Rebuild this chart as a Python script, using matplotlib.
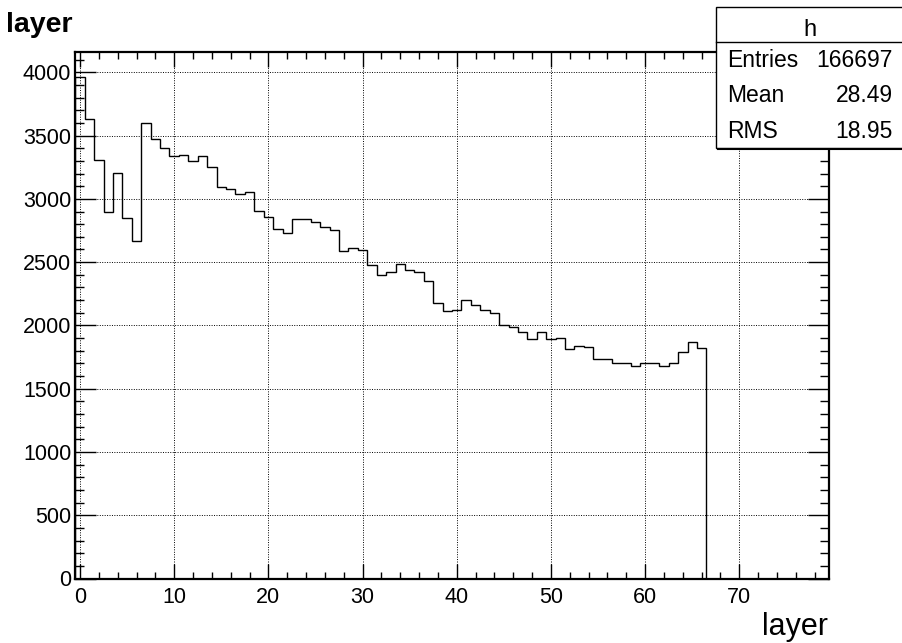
import numpy as np
import matplotlib
matplotlib.use("Agg")
import matplotlib.pyplot as plt
from matplotlib.ticker import MultipleLocator
from matplotlib.patches import Rectangle
from matplotlib.lines import Line2D

plt.rcParams['font.family'] = ['Liberation Sans', 'DejaVu Sans']

# Histogram "h": counts per layer (bins centred on integer layers)
layer_counts = [
    3960, 3630, 3310, 2900, 3205, 2850, 2665, 3600, 3475, 3400,
    3335, 3345, 3300, 3335, 3250, 3095, 3075, 3040, 3055, 2905,
    2860, 2765, 2730, 2840, 2840, 2820, 2775, 2755, 2585, 2610,
    2595, 2475, 2400, 2420, 2485, 2435, 2420, 2350, 2180, 2115,
    2125, 2200, 2165, 2125, 2100, 2005, 1985, 1950, 1890, 1945,
    1890, 1900, 1810, 1840, 1830, 1735, 1735, 1705, 1705, 1680,
    1705, 1705, 1680, 1705, 1790, 1870, 1825,
]
n_bins_total = 80
x_low, x_high = -0.5, 79.5

stats_title = "h"
stats_labels = ["Entries", "Mean", "RMS"]
stats_values = ["166697", "28.49", "18.95"]

W, H, DPI = 903, 643, 100
fig = plt.figure(figsize=(W / DPI, H / DPI), dpi=DPI)

def fx(px):
    return px / W

def fy(py):
    return 1 - py / H

ax_left, ax_right, ax_top, ax_bottom = 75.3, 828.8, 52.3, 578.5
ax = fig.add_axes([fx(ax_left), fy(ax_bottom), fx(ax_right - ax_left), (ax_bottom - ax_top) / H])

counts = np.zeros(n_bins_total)
counts[:len(layer_counts)] = layer_counts
edges = np.linspace(x_low, x_high, n_bins_total + 1)
last = len(layer_counts)
ax.stairs(counts[:last], edges[:last + 1], baseline=0, color='black', linewidth=1.0, zorder=3)

ax.set_xlim(x_low, x_high)
ax.set_ylim(0, 1.05 * max(layer_counts))

ax.xaxis.set_major_locator(MultipleLocator(10))
ax.xaxis.set_minor_locator(MultipleLocator(2))
ax.yaxis.set_major_locator(MultipleLocator(500))
ax.yaxis.set_minor_locator(MultipleLocator(100))

ax.grid(True, which='major', color='black', linestyle=(0, (1, 1.5)), linewidth=0.7, zorder=1)
ax.set_axisbelow(True)

for s in ax.spines.values():
    s.set_linewidth(1.6)
    s.set_zorder(4)

ax.tick_params(axis='both', which='both', direction='in', top=True, right=True,
               color='black', labelsize=15.5, labelcolor='black')
ax.tick_params(axis='x', which='major', length=10.8, width=1.0, pad=6)
ax.tick_params(axis='x', which='minor', length=5.3, width=1.0)
ax.tick_params(axis='y', which='major', length=14.9, width=1.0, pad=3)
ax.tick_params(axis='y', which='minor', length=6.2, width=1.0)

# Axis titles
fig.text(fx(828), fy(635), "layer", ha='right', va='baseline', fontsize=22)
fig.text(fx(6), fy(31.7), "layer", ha='left', va='baseline', fontsize=20.5, fontweight='bold')

# Statistics box
box_l, box_t, box_b, sep = 716, 6.7, 148, 41.7
fig.add_artist(Rectangle((fx(box_l), fy(box_b)), fx(W + 10 - box_l), (box_b - box_t) / H,
                         transform=fig.transFigure, facecolor='white', edgecolor='black',
                         linewidth=1.0, zorder=10, clip_on=False))
fig.add_artist(Line2D([fx(box_l + 2), fx(W + 5)], [fy(box_b + 1.5), fy(box_b + 1.5)],
                      transform=fig.transFigure, color='black', linewidth=1.5, zorder=11))
fig.add_artist(Line2D([fx(box_l), fx(W + 5)], [fy(sep), fy(sep)],
                      transform=fig.transFigure, color='black', linewidth=1.0, zorder=11))
fig.text(fx(810), fy(36), stats_title, ha='center', va='baseline', fontsize=17, zorder=12)
for lab, val, base in zip(stats_labels, stats_values, [66.7, 101.7, 138]):
    fig.text(fx(726.7), fy(base), lab, ha='left', va='baseline', fontsize=16.5, zorder=12)
    fig.text(fx(893), fy(base), val, ha='right', va='baseline', fontsize=16.5, zorder=12)

fig.savefig("out.png", dpi=DPI)
